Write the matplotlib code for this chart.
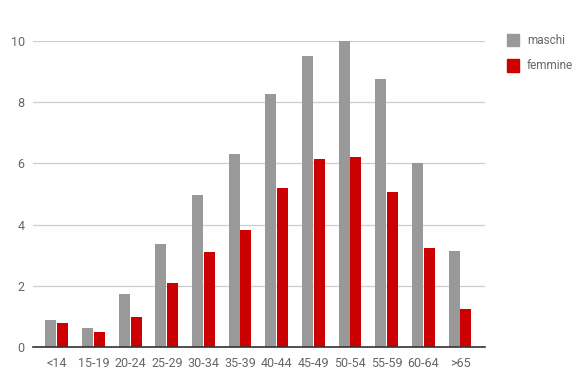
import numpy as np
import matplotlib.pyplot as plt
from matplotlib.patches import Patch

plt.rcParams['font.family'] = ['Roboto', 'DejaVu Sans']

# age groups and values
categories = ['<14', '15-19', '20-24', '25-29', '30-34', '35-39',
              '40-44', '45-49', '50-54', '55-59', '60-64', '>65']
maschi = [0.89, 0.63, 1.73, 3.38, 4.98, 6.30, 8.26, 9.50, 10.0, 8.75, 6.00, 3.14]
femmine = [0.78, 0.49, 0.98, 2.09, 3.09, 3.81, 5.18, 6.13, 6.21, 5.08, 3.25, 1.24]
yticks = [0, 2, 4, 6, 8, 10]

gray = '#999999'
red = '#cc0000'
text_col = '#666666'

fig = plt.figure(figsize=(5.81, 3.76), dpi=100)
ax = fig.add_axes([33 / 581, 29 / 376, 452 / 581, 306 / 376])

x = np.arange(len(categories))
w = 0.3
ax.bar(x - 0.16, maschi, w, color=gray, zorder=3)
ax.bar(x + 0.16, femmine, w, color=red, zorder=3)

ax.set_xlim(-0.65, len(categories) - 0.32)
ax.set_ylim(0, 10)
ax.set_yticks(yticks)
ax.set_xticks(x)
ax.set_xticklabels(categories)
ax.tick_params(axis='both', length=0, labelsize=9, labelcolor=text_col)
ax.tick_params(axis='y', pad=6)
ax.tick_params(axis='x', pad=7)
ax.grid(axis='y', color='#cccccc', linewidth=0.9, zorder=0)

for s in ['top', 'right', 'left']:
    ax.spines[s].set_visible(False)
ax.spines['bottom'].set_color('#333333')
ax.spines['bottom'].set_linewidth(1.2)
ax.spines['bottom'].set_zorder(4)

handles = [Patch(color=gray, label='maschi'), Patch(color=red, label='femmine')]
leg = fig.legend(handles=handles, loc='upper left',
                 bbox_to_anchor=(507 / 581, 1 - 34 / 376),
                 frameon=False, fontsize=8.5, labelcolor=text_col,
                 borderpad=0, borderaxespad=0,
                 handlelength=1.0, handleheight=1.2, handletextpad=0.7,
                 labelspacing=1.05)

fig.savefig('out.png', dpi=100)
